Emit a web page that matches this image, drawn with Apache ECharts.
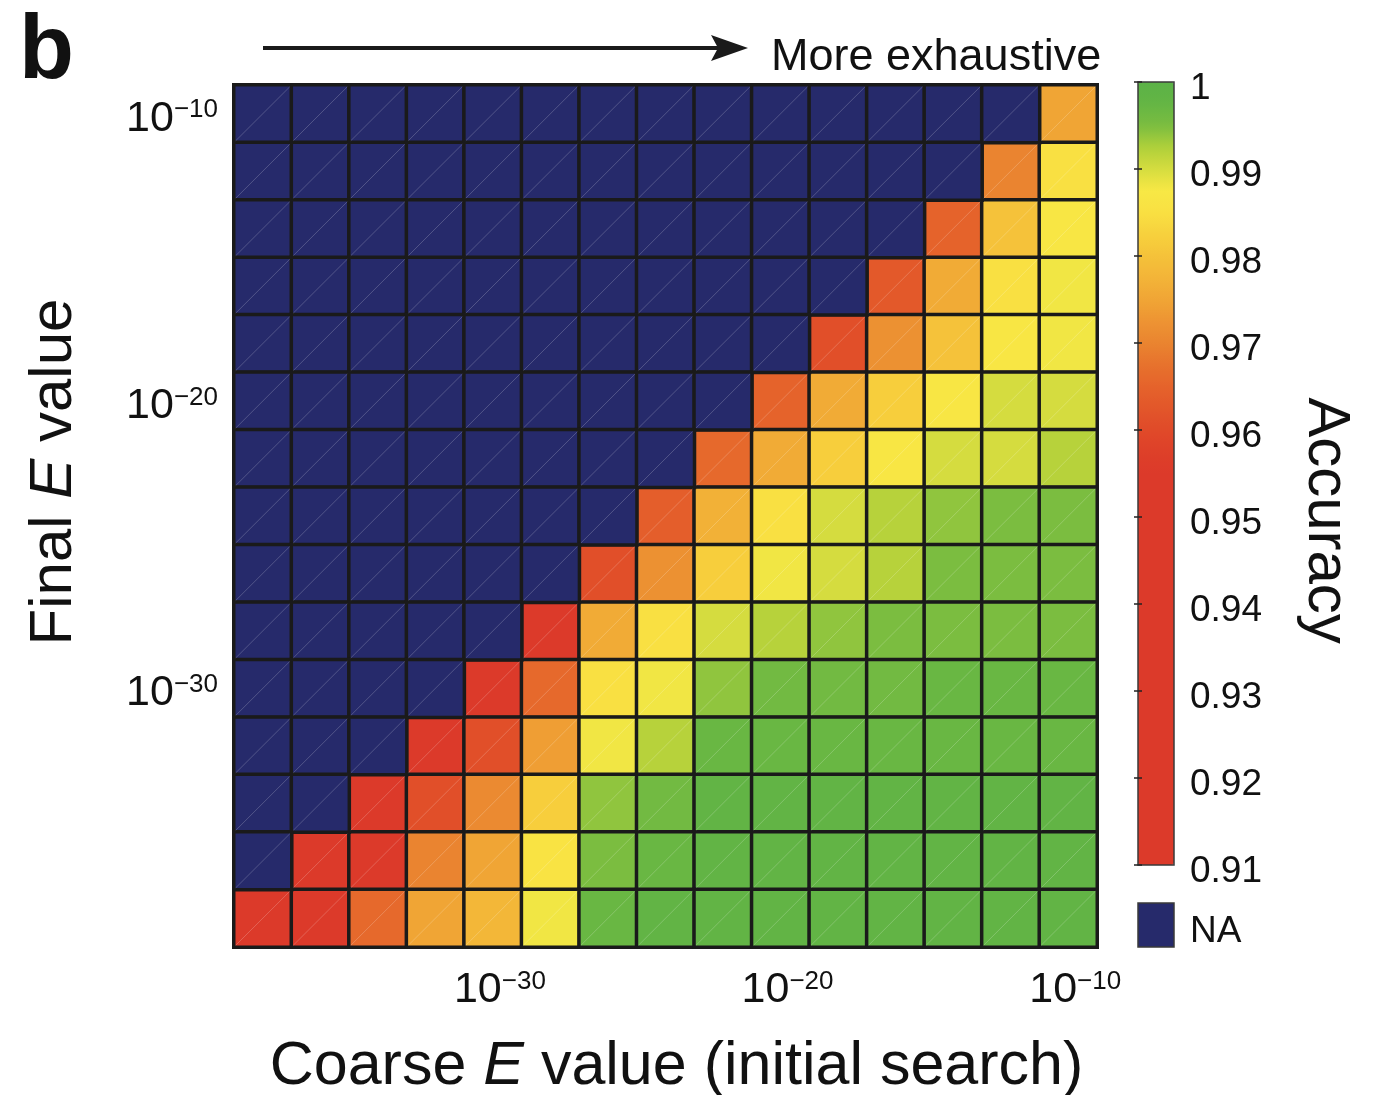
<!DOCTYPE html>
<html>
<head>
<meta charset="utf-8">
<script src="https://cdn.jsdelivr.net/npm/echarts@6/dist/echarts.min.js"></script>
<style>
  html, body { margin: 0; padding: 0; background: #ffffff; }
  #chart { width: 1375px; height: 1095px; }
</style>
</head>
<body>
<div id="chart"></div>
<script>
// log10 of the E-value thresholds, shared by both axes (10^-38 … 10^-10, step 2)
const exponents = [-38, -36, -34, -32, -30, -28, -26, -24, -22, -20, -18, -16, -14, -12, -10];
const labelledExponents = [-30, -20, -10];

// Final E value for each row, top to bottom
const finalExponents = [-10, -12, -14, -16, -18, -20, -22, -24, -26, -28, -30, -32, -34, -36, -38];

// Accuracy per row; columns follow the coarse E value 10^-38 … 10^-10.
// null = NA (coarse threshold stricter than the final one)
const N = null;
const accuracyRows = [
  [N, N, N, N, N, N, N, N, N, N, N, N, N, N, 0.975],
  [N, N, N, N, N, N, N, N, N, N, N, N, N, 0.970, 0.985],
  [N, N, N, N, N, N, N, N, N, N, N, N, 0.965, 0.980, 0.987],
  [N, N, N, N, N, N, N, N, N, N, N, 0.963, 0.976, 0.985, 0.988],
  [N, N, N, N, N, N, N, N, N, N, 0.961, 0.972, 0.980, 0.987, 0.988],
  [N, N, N, N, N, N, N, N, N, 0.965, 0.976, 0.982, 0.987, 0.990, 0.990],
  [N, N, N, N, N, N, N, N, 0.966, 0.976, 0.982, 0.987, 0.990, 0.990, 0.992],
  [N, N, N, N, N, N, N, 0.964, 0.977, 0.985, 0.990, 0.992, 0.994, 0.995, 0.995],
  [N, N, N, N, N, N, 0.961, 0.972, 0.982, 0.988, 0.990, 0.992, 0.995, 0.995, 0.995],
  [N, N, N, N, N, 0.955, 0.976, 0.985, 0.990, 0.992, 0.994, 0.995, 0.995, 0.995, 0.995],
  [N, N, N, N, 0.955, 0.966, 0.985, 0.988, 0.994, 0.996, 0.996, 0.996, 0.997, 0.997, 0.997],
  [N, N, N, 0.950, 0.961, 0.974, 0.988, 0.992, 0.997, 0.997, 0.997, 0.997, 0.997, 0.997, 0.997],
  [N, N, 0.950, 0.961, 0.971, 0.982, 0.994, 0.996, 0.998, 0.998, 0.998, 0.998, 0.998, 0.998, 0.998],
  [N, 0.948, 0.950, 0.970, 0.975, 0.986, 0.995, 0.997, 0.998, 0.998, 0.998, 0.998, 0.998, 0.998, 0.998],
  [0.945, 0.948, 0.966, 0.975, 0.978, 0.988, 0.997, 0.998, 0.998, 0.998, 0.998, 0.998, 0.998, 0.998, 0.998]
];

// Colour scale from 0.91 to 1 in steps of 0.0025 (flat red up to 0.955)
const accuracyColors = Array(19).fill('#DC3A2A').concat([
  '#DE4029', '#E04A29', '#E2562A', '#E5632B', '#E7722D', '#EA8430',
  '#ED9433', '#F0A535', '#F3B438', '#F5C23A', '#F7D13D', '#F9E042',
  '#F8E845', '#D5DC3F', '#AFD03A', '#7BBD40', '#64B544', '#5BB247'
]);
const naColor = '#262A6B';

const FONT = '"Liberation Sans", Arial, Helvetica, sans-serif';
const INK = '#111111';

// Split the matrix into measured cells and NA cells (x = coarse index, y = final index)
const measuredCells = [];
const naCells = [];
const allCells = [];
accuracyRows.forEach((row, r) => {
  const y = exponents.indexOf(finalExponents[r]);
  row.forEach((v, x) => {
    allCells.push([x, y]);
    if (v === null) naCells.push([x, y, 0]);
    else measuredCells.push([x, y, v]);
  });
});

function powerLabel(extra) {
  return Object.assign({
    interval: (i, v) => labelledExponents.includes(Number(v)),
    formatter: v => '{b|10}{s|\u2212' + Math.abs(Number(v)) + '}',
    rich: {
      b: { fontFamily: FONT, fontSize: 43, color: INK },
      s: { fontFamily: FONT, fontSize: 26, color: INK, verticalAlign: 'top' }
    }
  }, extra);
}

function titleRich(size) {
  return {
    r: { fontFamily: FONT, fontSize: size, color: INK },
    i: { fontFamily: FONT, fontSize: size, color: INK, fontStyle: 'italic' }
  };
}

const chart = echarts.init(document.getElementById('chart'), null, { renderer: 'canvas' });

chart.setOption({
  backgroundColor: '#ffffff',
  animation: false,
  title: {
    text: 'b',
    left: 14,
    top: 3,
    textStyle: { fontFamily: FONT, fontSize: 90, fontWeight: 'bold', color: INK }
  },
  grid: [
    { left: 234, top: 85, width: 863, height: 862, outerBoundsMode: 'none', containLabel: false },
    { left: 1138, top: 82, width: 36, height: 783, show: true, z: 10,
      outerBoundsMode: 'none', containLabel: false,
      borderColor: '#3a3a3a', borderWidth: 1.5, backgroundColor: 'transparent' }
  ],
  xAxis: [
    {
      type: 'category', gridIndex: 0, data: exponents.map(String),
      axisLine: { show: false }, axisTick: { show: false },
      splitLine: { show: false }, splitArea: { show: false },
      axisLabel: powerLabel({ margin: 22, padding: [0, 0, 0, 14] }),
      name: '{r|Coarse }{i|E}{r| value (initial search)}',
      nameLocation: 'middle', nameGap: 90,
      nameTextStyle: { rich: titleRich(61), padding: [0, 0, 0, 22] }
    },
    { type: 'value', gridIndex: 1, show: false, min: 0, max: 1 }
  ],
  yAxis: [
    {
      type: 'category', gridIndex: 0, data: exponents.map(String),
      axisLine: { show: false }, axisTick: { show: false },
      splitLine: { show: false }, splitArea: { show: false },
      axisLabel: powerLabel({ margin: 16, padding: [10, 0, 0, 0] }),
      name: '{r|Final }{i|E}{r| value}',
      nameLocation: 'middle', nameGap: 150,
      nameTextStyle: { rich: titleRich(60), padding: [0, 0, 0, 88] }
    },
    {
      type: 'value', gridIndex: 1, position: 'right', z: 10,
      min: 0.91, max: 1, interval: 0.01,
      axisLine: { show: false },
      axisTick: { show: true, inside: true, length: 4, lineStyle: { color: '#222', width: 1.5 } },
      splitLine: { show: false },
      axisLabel: {
        margin: 16,
        formatter: v => '{v|' + v + '}',
        rich: { v: { fontFamily: FONT, fontSize: 37, color: INK, padding: [14, 0, 0, 0] } }
      },
      name: 'Accuracy', nameLocation: 'middle', nameRotate: -90, nameGap: 122,
      nameTextStyle: { fontFamily: FONT, fontSize: 60, color: INK, padding: [0, 0, 0, 94] }
    },
    {
      type: 'value', gridIndex: 1, position: 'left', z: 10,
      min: 0.91, max: 1, interval: 0.01,
      axisLine: { show: false },
      axisTick: { show: true, inside: true, length: 4, lineStyle: { color: '#222', width: 1.5 } },
      splitLine: { show: false },
      axisLabel: { show: false }
    }
  ],
  visualMap: {
    type: 'continuous',
    seriesIndex: 0,
    min: 0.91, max: 1,
    left: 1138, top: 82,
    itemWidth: 36, itemHeight: 783,
    padding: 0,
    calculable: false,
    hoverLink: false,
    inRange: { color: accuracyColors }
  },
  series: [
    {
      name: 'Accuracy',
      type: 'heatmap',
      xAxisIndex: 0, yAxisIndex: 0,
      data: measuredCells,
      itemStyle: { borderColor: '#1a1a1a', borderWidth: 3.5 },
      emphasis: { disabled: true }
    },
    {
      name: 'NA',
      type: 'heatmap',
      xAxisIndex: 0, yAxisIndex: 0,
      data: naCells,
      itemStyle: { color: naColor, borderColor: '#1a1a1a', borderWidth: 3.5 },
      emphasis: { disabled: true }
    },
    {
      // faint diagonal seam running through every cell
      name: 'seams',
      type: 'custom',
      xAxisIndex: 0, yAxisIndex: 0,
      silent: true,
      z: 3,
      data: allCells,
      renderItem: (params, api) => {
        const c = api.coord([api.value(0), api.value(1)]);
        const s = api.size([1, 1]);
        const hw = s[0] / 2 - 1.75, hh = s[1] / 2 - 1.75;
        return {
          type: 'line',
          shape: { x1: c[0] - hw, y1: c[1] + hh, x2: c[0] + hw, y2: c[1] - hh },
          style: { stroke: 'rgba(255,255,255,0.2)', lineWidth: 1 }
        };
      }
    }
  ],
  graphic: [
    // direction arrow above the grid
    { type: 'line', shape: { x1: 263, y1: 48, x2: 728, y2: 48 },
      style: { stroke: '#1a1a1a', lineWidth: 4 } },
    { type: 'polygon', shape: { points: [[711, 35], [748, 48], [711, 61], [718, 48]] },
      style: { fill: '#1a1a1a' } },
    { type: 'text', left: 771, top: 35,
      style: { text: 'More exhaustive', fontFamily: FONT, fontSize: 45, fill: INK } },
    // NA swatch below the colour bar
    { type: 'rect', shape: { x: 1138, y: 903, width: 36, height: 44 },
      style: { fill: naColor, stroke: '#3a3a3a', lineWidth: 1.5 } },
    { type: 'text', left: 1190, top: 913,
      style: { text: 'NA', fontFamily: FONT, fontSize: 37, fill: INK } }
  ]
});
</script>
</body>
</html>
